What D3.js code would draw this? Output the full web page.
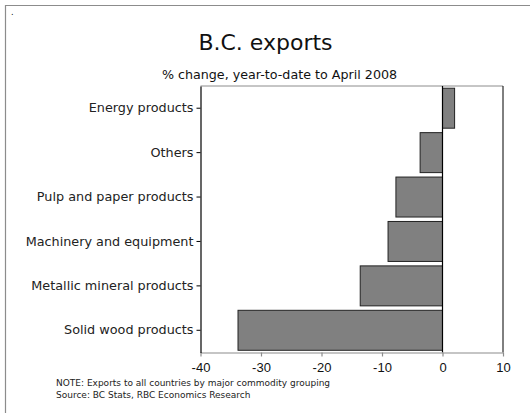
<!DOCTYPE html>
<html>
<head>
<meta charset="utf-8">
<script src="https://cdn.jsdelivr.net/npm/d3@7"></script>
<style>
  body { margin: 0; background: #fff; }
  svg { display: block; }
</style>
</head>
<body>
<div id="chart"></div>
<script>
const categories = ["Energy products", "Others", "Pulp and paper products",
    "Machinery and equipment", "Metallic mineral products", "Solid wood products"];
const values = [2.0, -3.7, -7.7, -9.0, -13.6, -33.8];
const xTicks = [-40, -30, -20, -10, 0, 10];
const notes = ["NOTE: Exports to all countries by major commodity grouping",
    "Source: BC Stats, RBC Economics Research"];

const width = 530, height = 413;
const plot = { left: 200.5, right: 503, top: 86, bottom: 352.5 };

const svg = d3.select("#chart").append("svg")
    .attr("width", width)
    .attr("height", height);

// outer frame (only top and left edges visible)
svg.append("path")
    .attr("d", `M5.5,${height}V5.5H${width}`)
    .attr("fill", "none")
    .attr("stroke", "#8c8c8c")
    .attr("stroke-width", 1.2);

svg.append("text")
    .attr("x", 11).attr("y", 15)
    .style("font", "8px 'DejaVu Sans'")
    .text(".");

svg.append("text")
    .attr("x", 265.5).attr("y", 50)
    .attr("text-anchor", "middle")
    .style("font", "22px 'DejaVu Sans'")
    .style("fill", "#111")
    .text("B.C. exports");

svg.append("text")
    .attr("x", 279.5).attr("y", 79)
    .attr("text-anchor", "middle")
    .style("font", "12.7px 'DejaVu Sans'")
    .style("fill", "#111")
    .text("% change, year-to-date to April 2008");

const x = d3.scaleLinear()
    .domain([-40, 10])
    .range([plot.left, plot.right]);

const y = d3.scaleBand()
    .domain(categories)
    .range([plot.top, plot.bottom])
    .paddingInner(0.1)
    .paddingOuter(0.05);

// plot box: top gray, right black
svg.append("line")
    .attr("x1", plot.left).attr("x2", plot.right)
    .attr("y1", plot.top).attr("y2", plot.top)
    .attr("stroke", "#8c8c8c");
svg.append("line")
    .attr("x1", plot.right).attr("x2", plot.right)
    .attr("y1", plot.top).attr("y2", plot.bottom)
    .attr("stroke", "#000");

svg.selectAll(".bar")
    .data(values)
    .enter()
    .append("rect")
    .attr("class", "bar")
    .attr("x", d => x(Math.min(0, d)))
    .attr("width", d => Math.abs(x(d) - x(0)))
    .attr("y", (d, i) => y(categories[i]))
    .attr("height", y.bandwidth())
    .attr("fill", "#808080")
    .attr("stroke", "#222")
    .attr("stroke-width", 1);

// zero line
svg.append("line")
    .attr("x1", x(0)).attr("x2", x(0))
    .attr("y1", plot.top).attr("y2", plot.bottom)
    .attr("stroke", "#000")
    .attr("stroke-width", 1.2);

const xAxis = svg.append("g")
    .attr("transform", `translate(0,${plot.bottom})`)
    .call(d3.axisBottom(x).tickValues(xTicks).tickFormat(d => String(d))
        .tickSize(4).tickSizeOuter(0).tickPadding(6));
xAxis.select(".domain").attr("stroke", "#8c8c8c").attr("stroke-width", 1.2);
xAxis.selectAll(".tick line").attr("stroke", "#8c8c8c").attr("stroke-width", 1.2);
xAxis.selectAll(".tick text")
    .style("font", "13px 'Liberation Sans'")
    .style("fill", "#111");

const yAxis = svg.append("g")
    .attr("transform", `translate(${plot.left},0)`)
    .call(d3.axisLeft(y).tickSize(4).tickSizeOuter(0).tickPadding(3));
yAxis.select(".domain").attr("stroke", "#000").attr("stroke-width", 1.2);
yAxis.selectAll(".tick line").attr("stroke", "#000");
yAxis.selectAll(".tick text")
    .style("font", "12.8px 'DejaVu Sans'")
    .style("fill", "#222");

svg.selectAll(".note")
    .data(notes)
    .enter()
    .append("text")
    .attr("class", "note")
    .attr("x", 56)
    .attr("y", (d, i) => 386 + i * 12)
    .style("font", "9px 'DejaVu Sans'")
    .style("fill", "#222")
    .text(d => d);
</script>
</body>
</html>
